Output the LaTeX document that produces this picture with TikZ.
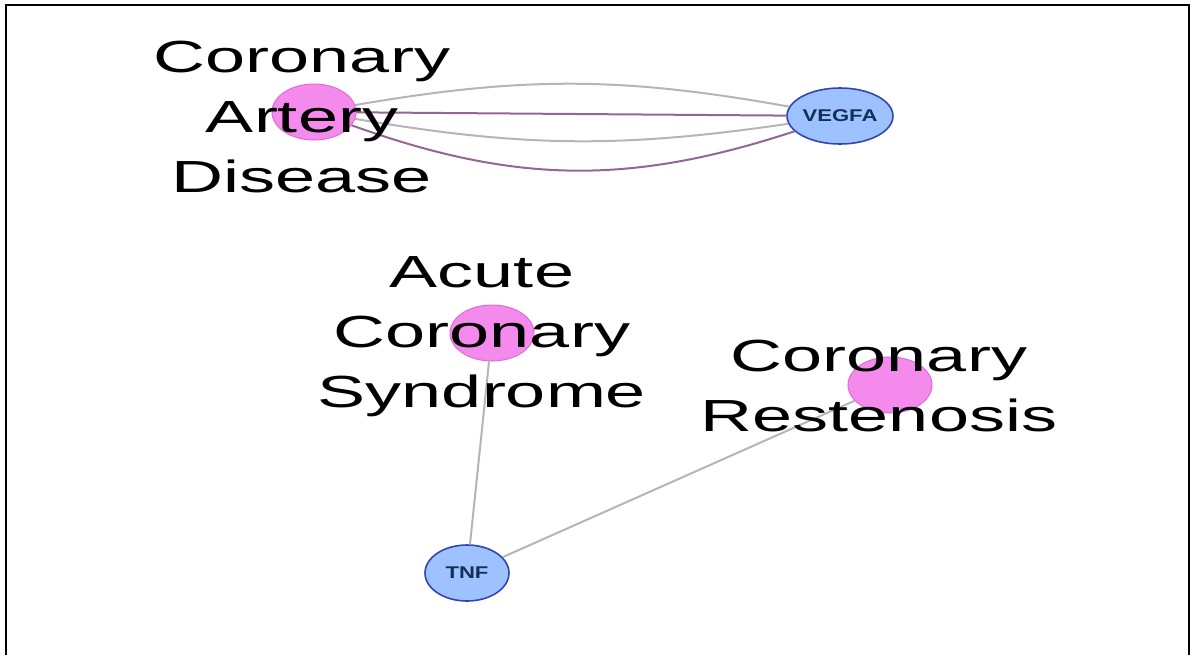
\documentclass[tikz,border=0pt]{standalone}
\usepackage{fontspec}
\usepackage{tikz}
\usetikzlibrary{shapes.geometric}
\setmainfont{Liberation Sans}
\newfontfamily\labfont[FakeStretch=1.6]{Liberation Sans}
\newfontfamily\genefont[FakeStretch=1.3]{Liberation Sans}
\definecolor{diseasepink}{rgb}{0.96,0.54,0.93}
\definecolor{diseaseedge}{rgb}{0.87,0.42,0.84}
\definecolor{genefill}{rgb}{0.62,0.76,1.00}
\definecolor{geneedge}{rgb}{0.20,0.27,0.70}
\definecolor{genetext}{rgb}{0.08,0.19,0.35}
\definecolor{linkgray}{rgb}{0.71,0.71,0.72}
\definecolor{linkpurple}{rgb}{0.58,0.40,0.58}
\tikzset{
  disease/.style={
    ellipse,
    draw=diseaseedge,
    line width=0.5pt,
    fill=diseasepink,
    minimum width=42pt,
    minimum height=28pt,
    inner sep=0pt
  },
  gene/.style={
    ellipse,
    draw=geneedge,
    line width=0.8pt,
    fill=genefill,
    minimum width=42pt,
    minimum height=28pt,
    inner sep=0pt,
    text=genetext,
    font=\genefont\bfseries\fontsize{8.5pt}{9pt}\selectfont
  },
  lab/.style={
    align=center,
    inner sep=0pt,
    font=\labfont\fontsize{22.5pt}{30pt}\selectfont
  },
  graylink/.style={
    line width=1pt,
    linkgray
  },
  purplelink/.style={
    line width=1pt,
    linkpurple
  }
}
\begin{document}
\begin{tikzpicture}[x=0.5pt, y=-0.5pt]
\useasboundingbox (0,0) rectangle (1191,655);
\draw[line width=1.2pt] (6,655) -- (6,5) -- (1189,5) -- (1189,655);
% nodes
\node[disease] (cad) at (314,112) {};
\node[gene] (vegfa) at (840,116) {VEGFA};
\node[disease] (acs) at (492,333) {};
\node[disease] (cr) at (890,385) {};
\node[gene] (tnf) at (467,573) {TNF};
% links
\draw[graylink] (cad) to[bend left=10] (vegfa);
\draw[purplelink] (cad) -- (vegfa);
\draw[graylink] (cad) to[bend right=9] (vegfa);
\draw[purplelink] (cad) to[bend right=19] (vegfa);
\draw[graylink] (acs) -- (tnf);
\draw[graylink] (cr) -- (tnf);
% labels
\node[lab] (cad-lab) at (302,117) {Coronary\\Artery\\Disease};
\node[lab] (acs-lab) at (482,337) {Acute\\Coronary\\Syndrome};
\node[lab] (cr-lab) at (879,386) {Coronary\\Restenosis};
\end{tikzpicture}
\end{document}
